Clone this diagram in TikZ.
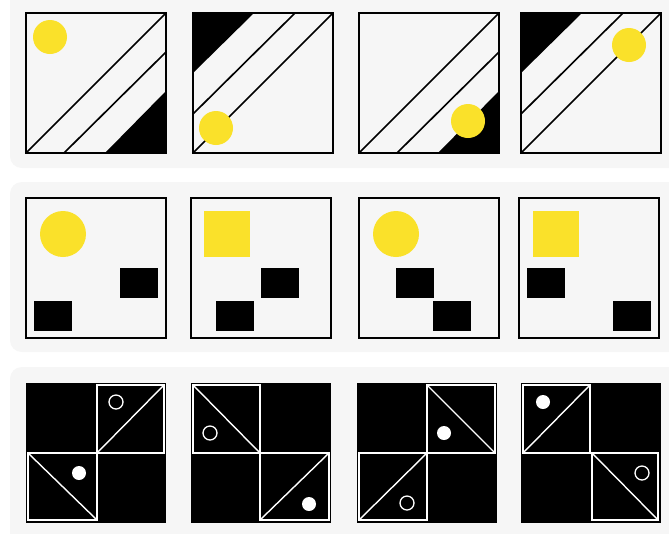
\documentclass[tikz,border=0pt]{standalone}
\usepackage{tikz}
\usetikzlibrary{positioning,arrows.meta,calc}
\usepackage{xcolor}
\definecolor{panelgray}{HTML}{F6F6F6}
\definecolor{sunyellow}{HTML}{FAE12A}

\begin{document}
\begin{tikzpicture}[
    x=0.3mm, y=-0.3mm,
    panel/.style={
        fill=panelgray,
        rounded corners=10
    },
    frame/.style={
        draw=black,
        line width=1.6pt,
        fill=panelgray
    },
    stripe/.style={
        draw=black,
        line width=1.4pt
    },
    sun/.style={
        fill=sunyellow
    },
    block/.style={
        fill=black
    },
    tile/.style={
        draw=white,
        line width=2pt
    },
    slash/.style={
        draw=white,
        line width=1.2pt
    },
    ring/.style={
        draw=white,
        line width=1.1pt
    },
    dot/.style={
        fill=white
    },
    >=Stealth
]
\useasboundingbox (0,0) rectangle (669,533);
\clip (0,0) rectangle (669,533);

% panels
\path[panel] (10,-20) rectangle (700,168);
\path[panel] (10,182) rectangle (700,352);
\path[panel] (10,367) rectangle (700,560);

% row 1: stripes
\foreach \x/\cx/\cy in {26/24/24, 359/109/108} {
    \begin{scope}[shift={(\x,13)}]
        \path[frame] (0,0) rectangle (140,140);
        \fill[black] (79,140) -- (140,140) -- (140,78) -- cycle;
        \draw[stripe] (0,140) -- (140,0);
        \draw[stripe] (38,140) -- (140,39);
        \draw[black, line width=1.6pt] (0,0) rectangle (140,140);
        \fill[sun] (\cx,\cy) circle (17);
    \end{scope}
}
\foreach \x/\cx/\cy in {193/23/115, 521/108/32} {
    \begin{scope}[shift={(\x,13)}]
        \path[frame] (0,0) rectangle (140,140);
        \fill[black] (0,0) -- (61,0) -- (0,60) -- cycle;
        \draw[stripe] (0,140) -- (140,0);
        \draw[stripe] (0,101) -- (102,0);
        \draw[black, line width=1.6pt] (0,0) rectangle (140,140);
        \fill[sun] (\cx,\cy) circle (17);
    \end{scope}
}

% row 2: shapes and blocks
\begin{scope}[shift={(26,198)}]
    \path[frame] (0,0) rectangle (140,140);
    \fill[sun] (37,36) circle (23);
    \fill[block] (94,70) rectangle (132,100);
    \fill[block] (8,103) rectangle (46,133);
\end{scope}
\begin{scope}[shift={(191,198)}]
    \path[frame] (0,0) rectangle (140,140);
    \fill[sun] (13,13) rectangle (59,59);
    \fill[block] (70,70) rectangle (108,100);
    \fill[block] (25,103) rectangle (63,133);
\end{scope}
\begin{scope}[shift={(359,198)}]
    \path[frame] (0,0) rectangle (140,140);
    \fill[sun] (37,36) circle (23);
    \fill[block] (37,70) rectangle (75,100);
    \fill[block] (74,103) rectangle (112,133);
\end{scope}
\begin{scope}[shift={(519,198)}]
    \path[frame] (0,0) rectangle (140,140);
    \fill[sun] (14,13) rectangle (60,59);
    \fill[block] (8,70) rectangle (46,100);
    \fill[block] (94,103) rectangle (132,133);
\end{scope}

% row 3: black tiles
\begin{scope}[shift={(26,383)}]
    \fill[black] (0,0) rectangle (140,140);
    \draw[tile] (71,2) rectangle (138,70);
    \draw[slash] (71,70) -- (138,2);
    \draw[ring] (90,19) circle (7);
    \draw[tile] (2,70) rectangle (71,137);
    \draw[slash] (2,70) -- (71,137);
    \fill[dot] (53,90) circle (7);
\end{scope}
\begin{scope}[shift={(191,383)}]
    \fill[black] (0,0) rectangle (140,140);
    \draw[tile] (2,2) rectangle (69,70);
    \draw[slash] (2,2) -- (69,70);
    \draw[ring] (19,50) circle (7);
    \draw[tile] (69,70) rectangle (138,137);
    \draw[slash] (69,137) -- (138,70);
    \fill[dot] (118,121) circle (7);
\end{scope}
\begin{scope}[shift={(357,383)}]
    \fill[black] (0,0) rectangle (140,140);
    \draw[tile] (70,2) rectangle (138,70);
    \draw[slash] (70,2) -- (138,70);
    \fill[dot] (87,50) circle (7);
    \draw[tile] (2,70) rectangle (70,137);
    \draw[slash] (2,137) -- (70,70);
    \draw[ring] (50,120) circle (7);
\end{scope}
\begin{scope}[shift={(521,383)}]
    \fill[black] (0,0) rectangle (140,140);
    \draw[tile] (2,2) rectangle (69,70);
    \draw[slash] (2,70) -- (69,2);
    \fill[dot] (22,19) circle (7);
    \draw[tile] (71,70) rectangle (137,137);
    \draw[slash] (71,70) -- (137,137);
    \draw[ring] (121,90) circle (7);
\end{scope}
\end{tikzpicture}
\end{document}
